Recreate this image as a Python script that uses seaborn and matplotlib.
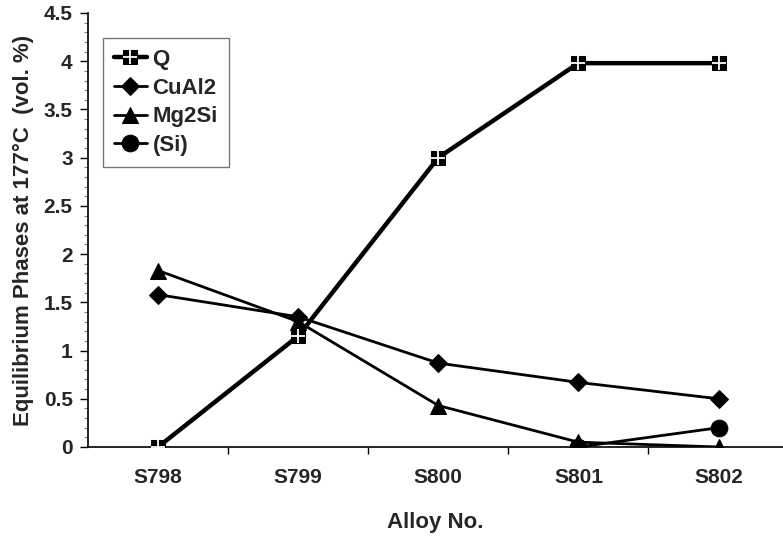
import pandas as pd
import matplotlib
matplotlib.use('Agg')
import matplotlib.pyplot as plt
import seaborn as sns
import matplotlib.ticker as ticker

sns.set_style('white')
plt.rcParams['font.family'] = ['Liberation Sans', 'DejaVu Sans']
plt.rcParams['font.weight'] = 'bold'

alloys = ['S798', 'S799', 'S800', 'S801', 'S802']
q_vals = [0.0, 1.15, 3.0, 3.98, 3.98]
cual2_vals = [1.58, 1.35, 0.87, 0.67, 0.50]
mg2si_vals = [1.83, 1.30, 0.43, 0.05, 0.0]
si_alloys = ['S801', 'S802']
si_vals = [0.0, 0.20]

df_q = pd.DataFrame({'Alloy': alloys, 'val': q_vals})
df_cu = pd.DataFrame({'Alloy': alloys, 'val': cual2_vals})
df_mg = pd.DataFrame({'Alloy': alloys, 'val': mg2si_vals})
df_si = pd.DataFrame({'Alloy': si_alloys, 'val': si_vals})

fig = plt.figure(figsize=(7.83, 5.37), dpi=100)
ax = fig.add_axes([0.1124, 0.1676, 0.8876, 0.8082])

sns.lineplot(x='Alloy', y='val', data=df_q, ax=ax, color='black', lw=3.2,
             marker='s', markersize=10, markeredgecolor='black', label='Q')
q_plus, = ax.plot(df_q['Alloy'], df_q['val'], ls='none', marker='+',
                  markersize=10, markeredgewidth=1.3, color='white',
                  label='_nolegend_', zorder=5)
sns.lineplot(x='Alloy', y='val', data=df_cu, ax=ax, color='black', lw=2,
             marker='D', markersize=9, markeredgecolor='black', label='CuAl2')
sns.lineplot(x='Alloy', y='val', data=df_mg, ax=ax, color='black', lw=2,
             marker='^', markersize=12, markeredgecolor='black', label='Mg2Si')
sns.lineplot(x='Alloy', y='val', data=df_si, ax=ax, color='black', lw=2,
             marker='o', markersize=12, markeredgecolor='black', label='(Si)')

ax.set_xlim(-0.5, 4.46)
ax.set_ylim(0, 4.5)

fs = 15
ax.yaxis.set_major_locator(ticker.MultipleLocator(0.5))
ax.yaxis.set_minor_locator(ticker.MultipleLocator(0.1))
ax.yaxis.set_major_formatter(ticker.FuncFormatter(lambda v, p: f'{v:g}'))
ax.tick_params(axis='y', which='major', direction='out', length=6, width=1,
               color='black', left=True, labelsize=fs, pad=5)
ax.tick_params(axis='y', which='minor', direction='out', length=3, width=0.8,
               color='gray', left=True)

ax.set_xticks(range(len(alloys)))
ax.set_xticklabels(alloys)
ax.set_xticks([0.5, 1.5, 2.5, 3.5], minor=True)
ax.tick_params(axis='x', which='major', length=0, labelsize=fs, pad=15)
ax.tick_params(axis='x', which='minor', direction='out', length=5, width=1,
               color='black', bottom=True)

for lab in ax.get_xticklabels() + ax.get_yticklabels():
    lab.set_fontweight('bold')

ax.spines['top'].set_visible(False)
ax.spines['right'].set_visible(False)
ax.spines['left'].set_color('black')
ax.spines['bottom'].set_color('black')
ax.spines['left'].set_linewidth(1.2)
ax.spines['bottom'].set_linewidth(1.2)

ax.set_xlabel('Alloy No.', fontsize=16, fontweight='bold', labelpad=18)
ax.set_ylabel('Equilibrium Phases at 177°C  (vol. %)', fontsize=16,
              fontweight='bold', labelpad=7)

handles, labels = ax.get_legend_handles_labels()
handles[0] = (handles[0], q_plus)
leg = ax.legend(handles, labels, loc='upper left', bbox_to_anchor=(0.021, 0.943),
                borderaxespad=0, fancybox=False, frameon=True, edgecolor='#555555',
                prop={'weight': 'bold', 'size': 16}, handlelength=1.5,
                labelspacing=0.35, borderpad=0.5, handletextpad=0.25)
leg.get_frame().set_linewidth(1)

fig.savefig('out.png', dpi=100)
